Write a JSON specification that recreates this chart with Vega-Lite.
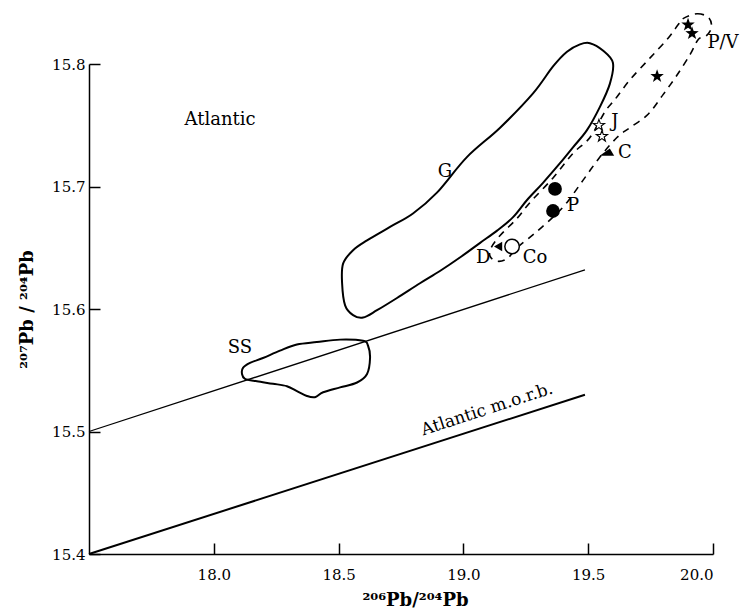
{
  "$schema": "https://vega.github.io/schema/vega-lite/v6.json",
  "width": 624,
  "height": 490,
  "autosize": "none",
  "padding": {"left": 89, "top": 64, "right": 30, "bottom": 61},
  "background": "white",
  "resolve": {"axis": {"x": "independent", "y": "independent"}},
  "config": {
    "view": {"stroke": null},
    "axis": {
      "grid": false,
      "domainColor": "black",
      "domainWidth": 1.5,
      "tickColor": "black",
      "tickWidth": 1.5,
      "labelFont": "DejaVu Serif",
      "labelFontSize": 15,
      "labelColor": "black",
      "titleFont": "DejaVu Serif",
      "titleFontSize": 18,
      "titleFontWeight": "bold",
      "titleColor": "black"
    }
  },
  "datasets": {
    "dcurves": [
      {"curve": "ref1", "order": 1, "x": 17.5, "y": 15.5},
      {"curve": "ref1", "order": 2, "x": 19.487, "y": 15.632},
      {"curve": "morb", "order": 1, "x": 17.5, "y": 15.4},
      {"curve": "morb", "order": 2, "x": 19.487, "y": 15.53}
    ],
    "dG": [
      {"order": 1, "x": 19.467, "y": 15.816},
      {"order": 2, "x": 19.507, "y": 15.817},
      {"order": 3, "x": 19.559, "y": 15.811},
      {"order": 4, "x": 19.599, "y": 15.801},
      {"order": 5, "x": 19.587, "y": 15.784},
      {"order": 6, "x": 19.547, "y": 15.765},
      {"order": 7, "x": 19.495, "y": 15.746},
      {"order": 8, "x": 19.439, "y": 15.732},
      {"order": 9, "x": 19.387, "y": 15.719},
      {"order": 10, "x": 19.319, "y": 15.703},
      {"order": 11, "x": 19.255, "y": 15.689},
      {"order": 12, "x": 19.199, "y": 15.675},
      {"order": 13, "x": 19.135, "y": 15.664},
      {"order": 14, "x": 19.067, "y": 15.654},
      {"order": 15, "x": 18.986, "y": 15.642},
      {"order": 16, "x": 18.906, "y": 15.631},
      {"order": 17, "x": 18.826, "y": 15.621},
      {"order": 18, "x": 18.734, "y": 15.609},
      {"order": 19, "x": 18.654, "y": 15.599},
      {"order": 20, "x": 18.598, "y": 15.593},
      {"order": 21, "x": 18.558, "y": 15.595},
      {"order": 22, "x": 18.526, "y": 15.603},
      {"order": 23, "x": 18.514, "y": 15.621},
      {"order": 24, "x": 18.518, "y": 15.637},
      {"order": 25, "x": 18.558, "y": 15.648},
      {"order": 26, "x": 18.614, "y": 15.656},
      {"order": 27, "x": 18.706, "y": 15.667},
      {"order": 28, "x": 18.798, "y": 15.678},
      {"order": 29, "x": 18.894, "y": 15.695},
      {"order": 30, "x": 19.014, "y": 15.724},
      {"order": 31, "x": 19.147, "y": 15.748},
      {"order": 32, "x": 19.279, "y": 15.776},
      {"order": 33, "x": 19.359, "y": 15.798},
      {"order": 34, "x": 19.415, "y": 15.81}
    ],
    "dSS": [
      {"order": 1, "x": 18.117, "y": 15.552},
      {"order": 2, "x": 18.145, "y": 15.556},
      {"order": 3, "x": 18.197, "y": 15.56},
      {"order": 4, "x": 18.265, "y": 15.566},
      {"order": 5, "x": 18.333, "y": 15.571},
      {"order": 6, "x": 18.413, "y": 15.573},
      {"order": 7, "x": 18.506, "y": 15.575},
      {"order": 8, "x": 18.598, "y": 15.574},
      {"order": 9, "x": 18.618, "y": 15.57},
      {"order": 10, "x": 18.626, "y": 15.56},
      {"order": 11, "x": 18.614, "y": 15.547},
      {"order": 12, "x": 18.574, "y": 15.54},
      {"order": 13, "x": 18.506, "y": 15.536},
      {"order": 14, "x": 18.438, "y": 15.532},
      {"order": 15, "x": 18.405, "y": 15.528},
      {"order": 16, "x": 18.373, "y": 15.529},
      {"order": 17, "x": 18.333, "y": 15.533},
      {"order": 18, "x": 18.293, "y": 15.537},
      {"order": 19, "x": 18.237, "y": 15.539},
      {"order": 20, "x": 18.173, "y": 15.541},
      {"order": 21, "x": 18.125, "y": 15.543},
      {"order": 22, "x": 18.113, "y": 15.547}
    ],
    "denv": [
      {"order": 1, "x": 19.88, "y": 15.837},
      {"order": 2, "x": 19.936, "y": 15.841},
      {"order": 3, "x": 19.982, "y": 15.838},
      {"order": 4, "x": 19.994, "y": 15.83},
      {"order": 5, "x": 19.973, "y": 15.823},
      {"order": 6, "x": 19.941, "y": 15.82},
      {"order": 7, "x": 19.909, "y": 15.808},
      {"order": 8, "x": 19.856, "y": 15.791},
      {"order": 9, "x": 19.8, "y": 15.775},
      {"order": 10, "x": 19.74, "y": 15.759},
      {"order": 11, "x": 19.667, "y": 15.748},
      {"order": 12, "x": 19.615, "y": 15.74},
      {"order": 13, "x": 19.547, "y": 15.724},
      {"order": 14, "x": 19.479, "y": 15.705},
      {"order": 15, "x": 19.415, "y": 15.687},
      {"order": 16, "x": 19.359, "y": 15.675},
      {"order": 17, "x": 19.287, "y": 15.662},
      {"order": 18, "x": 19.215, "y": 15.65},
      {"order": 19, "x": 19.175, "y": 15.641},
      {"order": 20, "x": 19.135, "y": 15.639},
      {"order": 21, "x": 19.107, "y": 15.643},
      {"order": 22, "x": 19.111, "y": 15.65},
      {"order": 23, "x": 19.147, "y": 15.66},
      {"order": 24, "x": 19.215, "y": 15.674},
      {"order": 25, "x": 19.267, "y": 15.687},
      {"order": 26, "x": 19.359, "y": 15.707},
      {"order": 27, "x": 19.439, "y": 15.727},
      {"order": 28, "x": 19.507, "y": 15.74},
      {"order": 29, "x": 19.567, "y": 15.761},
      {"order": 30, "x": 19.607, "y": 15.771},
      {"order": 31, "x": 19.667, "y": 15.787},
      {"order": 32, "x": 19.748, "y": 15.805},
      {"order": 33, "x": 19.82, "y": 15.821},
      {"order": 34, "x": 19.86, "y": 15.832}
    ],
    "dpts": [
      {"group": "PV", "x": 19.9, "y": 15.832},
      {"group": "PV", "x": 19.916, "y": 15.825},
      {"group": "PV", "x": 19.776, "y": 15.79},
      {"group": "J", "x": 19.543, "y": 15.75},
      {"group": "J", "x": 19.555, "y": 15.741},
      {"group": "C", "x": 19.575, "y": 15.728},
      {"group": "P", "x": 19.367, "y": 15.698},
      {"group": "P", "x": 19.359, "y": 15.68},
      {"group": "Co", "x": 19.195, "y": 15.651},
      {"group": "D", "x": 19.139, "y": 15.651}
    ],
    "dlab": [
      {"text": "Atlantic", "x": 18.025, "y": 15.754},
      {"text": "G", "x": 18.926, "y": 15.712},
      {"text": "SS", "x": 18.105, "y": 15.568},
      {"text": "P/V", "x": 20.04, "y": 15.817},
      {"text": "J", "x": 19.607, "y": 15.753},
      {"text": "C", "x": 19.647, "y": 15.727},
      {"text": "P", "x": 19.439, "y": 15.684},
      {"text": "Co", "x": 19.287, "y": 15.642},
      {"text": "D", "x": 19.079, "y": 15.642}
    ],
    "dmorb": [
      {"text": "Atlantic  m.o.r.b.", "x": 19.095, "y": 15.518}
    ]
  },
  "layer": [
    {
      "data": {"name": "dcurves"},
      "transform": [{"filter": "datum.curve === 'ref1'"}],
      "mark": {"type": "line", "color": "black", "strokeWidth": 1.3},
      "encoding": {
        "x": {
          "field": "x",
          "type": "quantitative",
          "scale": {"domain": [17.5, 20.0], "zero": false, "nice": false},
          "axis": {
            "orient": "bottom",
            "values": [18.0, 18.5, 19.0, 19.5, 20.0],
            "format": ".1f",
            "ticks": false,
            "tickSize": 0,
            "labelPadding": 13,
            "title": "²⁰⁶Pb/²⁰⁴Pb",
            "titleAlign": "center",
            "titleBaseline": "middle",
            "titleX": 326,
            "titleY": 46
          }
        },
        "y": {
          "field": "y",
          "type": "quantitative",
          "scale": {"domain": [15.4, 15.8], "zero": false, "nice": false},
          "axis": {
            "orient": "left",
            "values": [15.4, 15.5, 15.6, 15.7, 15.8],
            "format": ".1f",
            "ticks": false,
            "tickSize": 0,
            "labelPadding": 4,
            "title": "²⁰⁷Pb / ²⁰⁴Pb",
            "titleAngle": -90,
            "titleBaseline": "middle",
            "titleX": -62
          }
        },
        "order": {"field": "order", "type": "quantitative"}
      }
    },
    {
      "data": {"name": "dcurves"},
      "transform": [{"filter": "datum.curve === 'morb'"}],
      "mark": {"type": "line", "color": "black", "strokeWidth": 2},
      "encoding": {
        "x": {
          "field": "x",
          "type": "quantitative",
          "axis": {
            "orient": "top",
            "offset": -490,
            "values": [18.0, 18.5, 19.0, 19.5, 20.0],
            "ticks": true,
            "tickSize": 11,
            "labels": false,
            "domain": false,
            "title": null
          }
        },
        "y": {
          "field": "y",
          "type": "quantitative",
          "axis": {
            "orient": "right",
            "offset": -624,
            "values": [15.4, 15.5, 15.6, 15.7, 15.8],
            "ticks": true,
            "tickSize": 11,
            "labels": false,
            "domain": false,
            "title": null
          }
        },
        "order": {"field": "order", "type": "quantitative"}
      }
    },
    {
      "data": {"name": "dG"},
      "mark": {"type": "line", "color": "black", "strokeWidth": 2, "interpolate": "cardinal-closed"},
      "encoding": {
        "x": {"field": "x", "type": "quantitative", "axis": null},
        "y": {"field": "y", "type": "quantitative", "axis": null},
        "order": {"field": "order", "type": "quantitative"}
      }
    },
    {
      "data": {"name": "dSS"},
      "mark": {"type": "line", "color": "black", "strokeWidth": 2, "interpolate": "cardinal-closed"},
      "encoding": {
        "x": {"field": "x", "type": "quantitative", "axis": null},
        "y": {"field": "y", "type": "quantitative", "axis": null},
        "order": {"field": "order", "type": "quantitative"}
      }
    },
    {
      "data": {"name": "denv"},
      "mark": {"type": "line", "color": "black", "strokeWidth": 1.6, "strokeDash": [7, 6], "interpolate": "cardinal-closed"},
      "encoding": {
        "x": {"field": "x", "type": "quantitative", "axis": null},
        "y": {"field": "y", "type": "quantitative", "axis": null},
        "order": {"field": "order", "type": "quantitative"}
      }
    },
    {
      "data": {"name": "dpts"},
      "transform": [{"filter": "datum.group === 'PV'"}],
      "mark": {"type": "point", "shape": "M0,-1L0.235,-0.324L0.951,-0.309L0.38,0.124L0.588,0.809L0,0.4L-0.588,0.809L-0.38,0.124L-0.951,-0.309L-0.235,-0.324Z", "filled": true, "color": "black", "size": 200, "opacity": 1},
      "encoding": {
        "x": {"field": "x", "type": "quantitative", "axis": null},
        "y": {"field": "y", "type": "quantitative", "axis": null}
      }
    },
    {
      "data": {"name": "dpts"},
      "transform": [{"filter": "datum.group === 'J'"}],
      "mark": {"type": "point", "shape": "M0,-1L0.235,-0.324L0.951,-0.309L0.38,0.124L0.588,0.809L0,0.4L-0.588,0.809L-0.38,0.124L-0.951,-0.309L-0.235,-0.324Z", "filled": true, "fill": "white", "stroke": "black", "strokeWidth": 1.1, "size": 140, "opacity": 1},
      "encoding": {
        "x": {"field": "x", "type": "quantitative", "axis": null},
        "y": {"field": "y", "type": "quantitative", "axis": null}
      }
    },
    {
      "data": {"name": "dpts"},
      "transform": [{"filter": "datum.group === 'C'"}],
      "mark": {"type": "point", "shape": "M-1,0.5L1,0.5L0.4,-0.5Z", "filled": true, "color": "black", "size": 210, "opacity": 1},
      "encoding": {
        "x": {"field": "x", "type": "quantitative", "axis": null},
        "y": {"field": "y", "type": "quantitative", "axis": null}
      }
    },
    {
      "data": {"name": "dpts"},
      "transform": [{"filter": "datum.group === 'P'"}],
      "mark": {"type": "point", "shape": "circle", "filled": true, "color": "black", "size": 190, "opacity": 1},
      "encoding": {
        "x": {"field": "x", "type": "quantitative", "axis": null},
        "y": {"field": "y", "type": "quantitative", "axis": null}
      }
    },
    {
      "data": {"name": "dpts"},
      "transform": [{"filter": "datum.group === 'Co'"}],
      "mark": {"type": "point", "shape": "circle", "filled": true, "fill": "white", "stroke": "black", "strokeWidth": 1.5, "size": 210, "opacity": 1},
      "encoding": {
        "x": {"field": "x", "type": "quantitative", "axis": null},
        "y": {"field": "y", "type": "quantitative", "axis": null}
      }
    },
    {
      "data": {"name": "dpts"},
      "transform": [{"filter": "datum.group === 'D'"}],
      "mark": {"type": "point", "shape": "triangle-left", "filled": true, "color": "black", "size": 90, "opacity": 1},
      "encoding": {
        "x": {"field": "x", "type": "quantitative", "axis": null},
        "y": {"field": "y", "type": "quantitative", "axis": null}
      }
    },
    {
      "data": {"name": "dlab"},
      "mark": {"type": "text", "font": "DejaVu Serif", "fontSize": 18, "color": "black", "align": "center", "baseline": "middle"},
      "encoding": {
        "x": {"field": "x", "type": "quantitative", "axis": null},
        "y": {"field": "y", "type": "quantitative", "axis": null},
        "text": {"field": "text", "type": "nominal"}
      }
    },
    {
      "data": {"name": "dmorb"},
      "mark": {"type": "text", "font": "DejaVu Serif", "fontSize": 17, "color": "black", "align": "center", "baseline": "middle", "angle": -18},
      "encoding": {
        "x": {"field": "x", "type": "quantitative", "axis": null},
        "y": {"field": "y", "type": "quantitative", "axis": null},
        "text": {"field": "text", "type": "nominal"}
      }
    }
  ]
}
